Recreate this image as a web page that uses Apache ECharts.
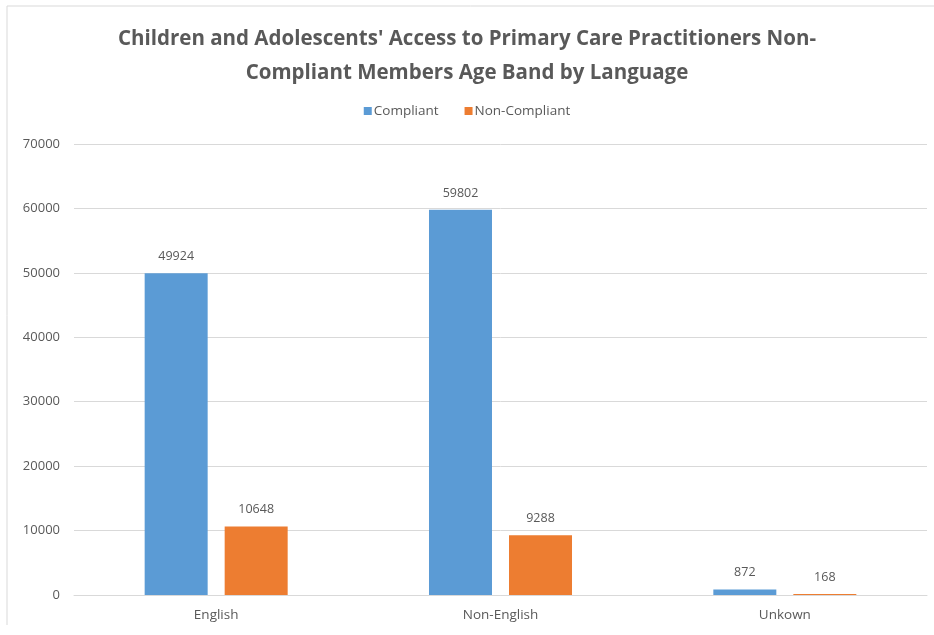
<!DOCTYPE html>
<html>
<head>
<meta charset="utf-8">
<script src="https://cdn.jsdelivr.net/npm/echarts@6/dist/echarts.min.js"></script>
<style>
  html, body { margin: 0; padding: 0; background: #ffffff; }
  #chart { width: 934px; height: 635px; }
</style>
</head>
<body>
<div id="chart"></div>
<script>
// Member counts by preferred language
const languages = ['English', 'Non-English', 'Unkown'];
const compliant = [49924, 59802, 872];
const nonCompliant = [10648, 9288, 168];
const yTicks = { min: 0, max: 70000, interval: 10000 };

const textColor = '#595959';
const fontFamily = 'Open Sans, Noto Sans, sans-serif';

const chart = echarts.init(document.getElementById('chart'));
chart.setOption({
  backgroundColor: '#ffffff',
  animation: false,
  title: {
    text: "Children and Adolescents' Access to Primary Care Practitioners Non-\nCompliant Members Age Band by Language",
    left: 'center',
    top: 17,
    textStyle: {
      color: textColor,
      fontFamily: fontFamily,
      fontSize: 20.5,
      fontWeight: 'bold',
      lineHeight: 34
    }
  },
  legend: {
    top: 99,
    left: 'center',
    itemWidth: 8,
    itemHeight: 8,
    itemGap: 26,
    icon: 'rect',
    textStyle: { color: textColor, fontFamily: fontFamily, fontSize: 13.5, padding: [0, 0, 0, -3] },
    data: ['Compliant', 'Non-Compliant']
  },
  graphic: [{
    type: 'polyline',
    shape: { points: [[7, 625], [7, 6], [934, 6]] },
    style: { stroke: '#d9d9d9', fill: null, lineWidth: 1 },
    silent: true
  }],
  grid: { left: 74, right: 7, top: 144, bottom: 40 },
  xAxis: {
    type: 'category',
    data: languages,
    axisTick: { show: false },
    axisLine: { lineStyle: { color: '#d9d9d9' } },
    axisLabel: { color: textColor, fontFamily: fontFamily, fontSize: 13.5, margin: 13 }
  },
  yAxis: {
    type: 'value',
    min: yTicks.min,
    max: yTicks.max,
    interval: yTicks.interval,
    axisLine: { show: false },
    axisTick: { show: false },
    splitLine: { lineStyle: { color: '#d9d9d9' } },
    axisLabel: {
      color: textColor, fontFamily: fontFamily, fontSize: 13, margin: 14,
      formatter: (v) => String(v)
    }
  },
  series: [
    {
      name: 'Compliant',
      type: 'bar',
      data: compliant,
      barWidth: 63,
      barGap: '27%',
      itemStyle: { color: '#5b9bd5' },
      label: { show: true, position: 'top', distance: 10, color: textColor, fontFamily: fontFamily, fontSize: 12.5 }
    },
    {
      name: 'Non-Compliant',
      type: 'bar',
      data: nonCompliant,
      barWidth: 63,
      itemStyle: { color: '#ed7d31' },
      label: { show: true, position: 'top', distance: 10, color: textColor, fontFamily: fontFamily, fontSize: 12.5 }
    }
  ]
});
</script>
</body>
</html>
